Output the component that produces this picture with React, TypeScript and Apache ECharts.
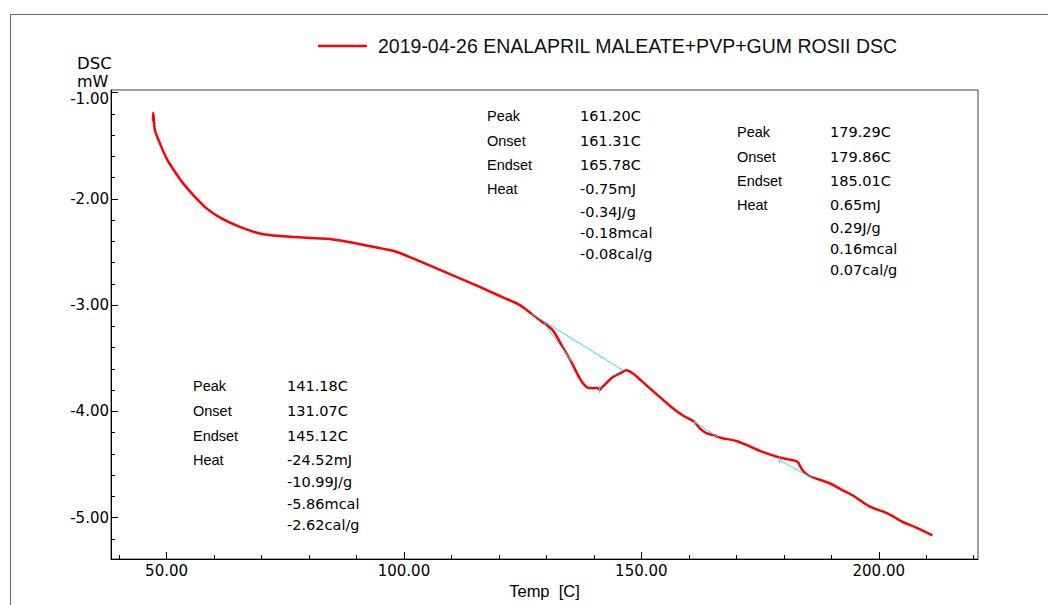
import React, { useEffect, useRef } from "react";
import * as echarts from "echarts";

const SERIES_NAME = "2019-04-26 ENALAPRIL MALEATE+PVP+GUM ROSII DSC";

// DSC curve: temperature [C] and heat flow [mW]
const tempC = [
  47.15, 47.18, 47.3, 47.54, 48.59, 50.0, 51.75, 53.49, 55.96, 58.42, 61.58, 65.43, 69.64, 73.85, 79.47,
  85.07, 89.99, 93.49, 97.0, 99.11, 101.91, 106.12, 111.04, 115.95, 120.85, 124.4, 126.8, 129.2, 131.31, 133.42,
  135.25, 137.0, 138.41, 139.73, 140.8, 141.2, 141.6, 142.62, 143.94, 145.77, 146.83, 148.15, 149.63, 151.73,
  153.84, 156.3, 158.68, 161.21, 162.26, 163.67, 165.42, 166.05, 167.1, 169.98, 172.79, 175.52, 179.1, 181.21,
  182.89, 183.94, 185.42, 186.82, 189.62, 191.73, 194.46, 198.04, 202.25, 204.99, 207.87, 211.3,
];
const dscMW = [
  -1.27, -1.19, -1.24, -1.353, -1.478, -1.62, -1.746, -1.855, -1.981, -2.09, -2.185, -2.264, -2.326, -2.351, -2.367,
  -2.382, -2.42, -2.452, -2.482, -2.51, -2.561, -2.64, -2.734, -2.828, -2.928, -3.0, -3.079, -3.161, -3.236, -3.396,
  -3.535, -3.688, -3.77, -3.782, -3.78, -3.8, -3.78, -3.735, -3.679, -3.638, -3.613, -3.641, -3.698, -3.782,
  -3.864, -3.959, -4.037, -4.1, -4.159, -4.206, -4.225, -4.241, -4.253, -4.279, -4.329, -4.382, -4.435, -4.455,
  -4.476, -4.555, -4.611, -4.633, -4.677, -4.727, -4.79, -4.894, -4.969, -5.041, -5.094, -5.167,
];

// analysis construction lines (baselines / tangents / peak marks)
const baseline1 = [[126.83, -3.079], [146.1, -3.613]];
const tangent1a = [[129.5, -3.17], [135.3, -3.53]];
const tangent1b = [[143.27, -3.682], [146.1, -3.613]];
const peakMark1 = [[141.2, -3.76], [141.2, -3.83]];
const baseline2 = [[161.21, -4.1], [166.05, -4.241]];
const onsetMark2 = [[161.21, -4.075], [161.21, -4.13]];
const baseline3 = [[179.1, -4.46], [186.1, -4.633]];
const onsetMark3 = [[179.1, -4.43], [179.1, -4.49]];

// axes
const xMin = 38.3;
const xMax = 220.9;
const yMin = -5.39;
const yMax = -0.976;
const xMinorTicks = [40, 50, 60, 70, 80, 90, 100, 110, 120, 130, 140, 150, 160, 170, 180, 190, 200, 210, 220];
const xMajorTicks = [50, 100, 150, 200];
const yMinorTicks = [-5.2, -5.0, -4.8, -4.6, -4.4, -4.2, -4.0, -3.8, -3.6, -3.4, -3.2, -3.0, -2.8, -2.6, -2.4, -2.2, -2.0, -1.8, -1.6, -1.4, -1.2, -1.0];
const yMajorTicks = [-5, -4, -3, -2, -1];

// annotation tables
const annoLabels = ["Peak", "Onset", "Endset", "Heat"];
const annoA = ["141.18C", "131.07C", "145.12C", "-24.52mJ", "-10.99J/g", "-5.86mcal", "-2.62cal/g"];
const annoB = ["161.20C", "161.31C", "165.78C", "-0.75mJ", "-0.34J/g", "-0.18mcal", "-0.08cal/g"];
const annoC = ["179.29C", "179.86C", "185.01C", "0.65mJ", "0.29J/g", "0.16mcal", "0.07cal/g"];

const SANS = "'Liberation Sans', Arial, sans-serif";
const WIDE = "'DejaVu Sans', sans-serif";

function annoBlock(values: string[], lx: number, vx: number, rows: number[]) {
  const els: any[] = [];
  annoLabels.forEach((t, i) => {
    els.push({
      type: "text",
      x: lx,
      y: rows[i],
      style: { text: t, fill: "#000", font: `14.5px ${SANS}`, textVerticalAlign: "middle", textAlign: "left" },
    });
  });
  values.forEach((t, i) => {
    els.push({
      type: "text",
      x: vx,
      y: rows[i],
      style: { text: t, fill: "#000", font: `14.5px ${WIDE}`, textVerticalAlign: "middle", textAlign: "left" },
    });
  });
  return els;
}

export default function App() {
  const ref = useRef<HTMLDivElement>(null);
  useEffect(() => {
    if (!ref.current) return;
    const chart = echarts.init(ref.current, undefined, { renderer: "svg" });
    const mainData = tempC.map((t, i) => [t, dscMW[i]]);
    const cyan = (d: number[][]) => ({
      type: "line",
      data: d,
      symbol: "none",
      silent: true,
      lineStyle: { color: "#1ee8f0", width: 1 },
      z: 3,
    });
    const axisLineStyle = { show: true, lineStyle: { color: "#000", width: 1 } };
    chart.setOption({
      animation: false,
      backgroundColor: "#fff",
      grid: { left: 111, top: 90, right: 70, bottom: 46, show: true, borderColor: "#444", borderWidth: 1 },
      legend: {
        data: [SERIES_NAME],
        left: 318,
        top: 36,
        padding: 0,
        icon: "rect",
        itemWidth: 49,
        itemHeight: 2.5,
        textStyle: { color: "#111", fontFamily: SANS, fontSize: 19.5, padding: [0, 0, 0, 6] },
      },
      xAxis: [
        {
          type: "value",
          min: xMin,
          max: xMax,
          axisLine: axisLineStyle,
          axisTick: { show: true, inside: true, length: 4, customValues: xMinorTicks, lineStyle: { color: "#000" } },
          axisLabel: { show: false },
          splitLine: { show: false },
        },
        {
          type: "value",
          position: "bottom",
          min: xMin,
          max: xMax,
          axisLine: { show: false },
          axisTick: { show: true, inside: true, length: 7, customValues: xMajorTicks, lineStyle: { color: "#000" } },
          axisLabel: {
            show: true,
            customValues: xMajorTicks,
            formatter: (v: number) => v.toFixed(2),
            color: "#000",
            fontFamily: WIDE,
            fontSize: 15,
            margin: 4,
          },
          splitLine: { show: false },
          name: "Temp  [C]",
          nameLocation: "middle",
          nameGap: 17,
          nameTextStyle: { color: "#000", fontFamily: SANS, fontSize: 16.5 },
        },
      ],
      yAxis: [
        {
          type: "value",
          min: yMin,
          max: yMax,
          axisLine: axisLineStyle,
          axisTick: { show: true, inside: true, length: 4, customValues: yMinorTicks, lineStyle: { color: "#000" } },
          axisLabel: { show: false },
          splitLine: { show: false },
        },
        {
          type: "value",
          position: "left",
          min: yMin,
          max: yMax,
          axisLine: { show: false },
          axisTick: { show: true, inside: true, length: 7, customValues: yMajorTicks, lineStyle: { color: "#000" } },
          axisLabel: {
            show: true,
            customValues: yMajorTicks,
            formatter: (v: number) => (Math.abs(v + 1) < 1e-9 ? "{t|-1.00}" : v.toFixed(2)),
            rich: { t: { padding: [13, 0, 0, 0], fontFamily: WIDE, fontSize: 15, color: "#000" } },
            color: "#000",
            fontFamily: WIDE,
            fontSize: 15,
            margin: 2,
          },
          splitLine: { show: false },
        },
      ],
      series: [
        {
          name: SERIES_NAME,
          type: "line",
          data: mainData,
          symbol: "none",
          smooth: 0.3,
          itemStyle: { color: "#ff0000" },
          lineStyle: { color: "#ff0000", width: 2.5 },
          z: 2,
        },
        cyan(baseline1),
        cyan(tangent1a),
        cyan(tangent1b),
        cyan(peakMark1),
        cyan(baseline2),
        cyan(onsetMark2),
        cyan(baseline3),
        cyan(onsetMark3),
      ],
      graphic: [
        {
          type: "rect",
          shape: { x: 10.5, y: 14.5, width: 1100, height: 700 },
          style: { fill: "none", stroke: "#666", lineWidth: 1 },
          silent: true,
          z: -1,
        },
        { type: "text", x: 77, y: 63, style: { text: "DSC", fill: "#000", font: `16.5px ${WIDE}`, textVerticalAlign: "middle" } },
        { type: "text", x: 77, y: 81, style: { text: "mW", fill: "#000", font: `16px ${WIDE}`, textVerticalAlign: "middle" } },
        ...annoBlock(annoA, 193, 287, [386, 411, 436, 460, 482, 504, 525]),
        ...annoBlock(annoB, 487, 580, [116, 141, 165, 189, 212, 233, 254]),
        ...annoBlock(annoC, 737, 830, [132, 157, 181, 205, 228, 249, 270]),
      ],
    });
    return () => chart.dispose();
  }, []);
  return (
    <div
      ref={ref}
      style={{ position: "fixed", left: 0, top: 0, width: 1048, height: 605, background: "#fff" }}
    />
  );
}
